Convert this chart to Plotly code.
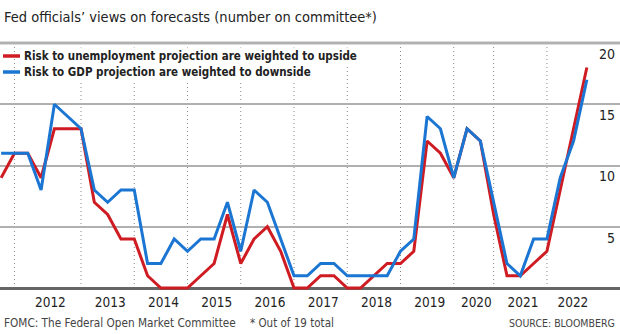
import plotly.graph_objects as go

# ---------------- data ----------------
meetings = [
    "2011-11",
    "2012-01", "2012-04", "2012-06", "2012-09", "2012-12",
    "2013-03", "2013-06", "2013-09", "2013-12",
    "2014-03", "2014-06", "2014-09", "2014-12",
    "2015-03", "2015-06", "2015-09", "2015-12",
    "2016-03", "2016-06", "2016-09", "2016-12",
    "2017-03", "2017-06", "2017-09", "2017-12",
    "2018-03", "2018-06", "2018-09", "2018-12",
    "2019-03", "2019-06", "2019-09", "2019-12",
    "2020-06", "2020-09", "2020-12",
    "2021-03", "2021-06", "2021-09", "2021-12",
    "2022-03", "2022-06", "2022-09", "2022-12",
]
unemployment_upside = [9, 11, 11, 9, 13, 13, 13, 7, 6, 4, 4, 1, 0, 0, 0, 1, 2, 6, 2, 4,
                       5, 3, 0, 0, 1, 1, 0, 0, 1, 2, 2, 3, 12, 11, 9, 13, 12, 6, 1, 1,
                       2, 3, 8, 13, 18]
gdp_downside = [11, 11, 11, 8, 15, 14, 13, 8, 7, 8, 8, 2, 2, 4, 3, 4, 4, 7, 3, 8,
                7, 4, 1, 1, 2, 2, 1, 1, 1, 1, 3, 4, 14, 13, 9, 13, 12, 7, 2, 1,
                4, 4, 9, 12, 17]
series_names = ["Risk to unemployment projection are weighted to upside",
                "Risk to GDP projection are weighted to downside"]
y_ticks = [5, 10, 15, 20]

title_text = "Fed officials\u2019 views on forecasts (number on committee*)"
footer_left = "FOMC: The Federal Open Market Committee"
footer_mid = "* Out of 19 total"
footer_right = "SOURCE: BLOOMBERG"

# ---------------- derived ----------------
W, H = 620, 334
idx = list(range(len(meetings)))
yrs = [m[:4] for m in meetings]
years = sorted(set(yrs))[1:]
starts = [yrs.index(y) for y in years]
ends = starts[1:] + [len(meetings) - 0.5]
label_pos = [(s + e) / 2 + 0.2 for s, e in zip(starts, ends)]

NARROW = "DejaVu Sans Condensed, sans-serif"
RED = "#cf1b22"
BLUE = "#1a76d2"
colors = [RED, BLUE]

# plot geometry: y=0 at 288px, y=20 at 43px
top_m, bot_m = 39, 42
ppu = (288 - 43) / 20.0
y_lo = -(H - bot_m - 288) / ppu
y_hi = 20 + (43 - top_m) / ppu
x_lo = -0.086
x_hi = 46.49


def py(px):
    """pixel row -> paper y"""
    return (H - bot_m - px) / (H - top_m - bot_m)


def pxx(px):
    """pixel column -> paper x"""
    return px / W


fig = go.Figure()
fig.add_trace(go.Scatter(x=idx, y=unemployment_upside, mode="lines", name=series_names[0],
                         line=dict(color=RED, width=3)))
fig.add_trace(go.Scatter(x=idx, y=gdp_downside, mode="lines", name=series_names[1],
                         line=dict(color=BLUE, width=3)))

# year boundary dotted lines
for s in starts:
    fig.add_shape(type="line", xref="x", yref="y", x0=s, x1=s, y0=0, y1=20,
                  line=dict(color="#8a8a8a", width=1, dash="1px,3px"), layer="below")
# top dark rule
fig.add_shape(type="line", xref="paper", yref="y", x0=0, x1=1, y0=20, y1=20,
              line=dict(color="#707070", width=2.5), layer="below")

annotations = [
    dict(text=title_text, xref="paper", yref="paper", x=0, y=py(16.5),
         xanchor="left", yanchor="middle", xshift=2, showarrow=False,
         font=dict(family=NARROW, size=14.5, color="#222")),
    dict(text=footer_left, xref="paper", yref="paper", x=0, y=py(323),
         xanchor="left", yanchor="middle", xshift=2, showarrow=False,
         font=dict(family=NARROW, size=11.7, color="#444")),
    dict(text=footer_mid, xref="paper", yref="paper", x=pxx(248), y=py(323),
         xanchor="left", yanchor="middle", showarrow=False,
         font=dict(family=NARROW, size=11.5, color="#444")),
    dict(text=footer_right, xref="paper", yref="paper", x=1, y=py(323),
         xanchor="right", yanchor="middle", xshift=-3, showarrow=False,
         font=dict(family=NARROW, size=10.5, color="#444")),
]

# legend (key) rows
legend_rows = [56, 72]
for name, col, row in zip(series_names, colors, legend_rows):
    fig.add_shape(type="line", xref="paper", yref="paper",
                  x0=pxx(3), x1=pxx(20), y0=py(row), y1=py(row),
                  line=dict(color=col, width=3.5), layer="above")
    annotations.append(dict(text="<b>%s</b>" % name, xref="paper", yref="paper",
                            x=pxx(22), y=py(row), xanchor="left", yanchor="middle",
                            showarrow=False, bgcolor="white", borderpad=1,
                            font=dict(family=NARROW, size=11.5, color="#222")))

fig.update_layout(
    width=W, height=H,
    margin=dict(l=0, r=0, t=top_m, b=bot_m, pad=0),
    paper_bgcolor="white", plot_bgcolor="white",
    showlegend=False,
    xaxis=dict(range=[x_lo, x_hi], showgrid=False, zeroline=False, showline=False,
               tickvals=label_pos, ticktext=years, ticks="",
               tickfont=dict(family=NARROW, size=13.5, color="#222")),
    yaxis=dict(range=[y_lo, y_hi], side="right", ticklabelposition="inside",
               tickvals=y_ticks, ticks="", ticklabelshift=11, ticklabelstandoff=2,
               showgrid=True, gridcolor="#b0b0b0", gridwidth=1.5,
               zeroline=True, zerolinecolor="#666666", zerolinewidth=2.5,
               showline=False,
               tickfont=dict(family=NARROW, size=14, color="#222")),
    annotations=annotations,
)
fig.write_html("out.html")
